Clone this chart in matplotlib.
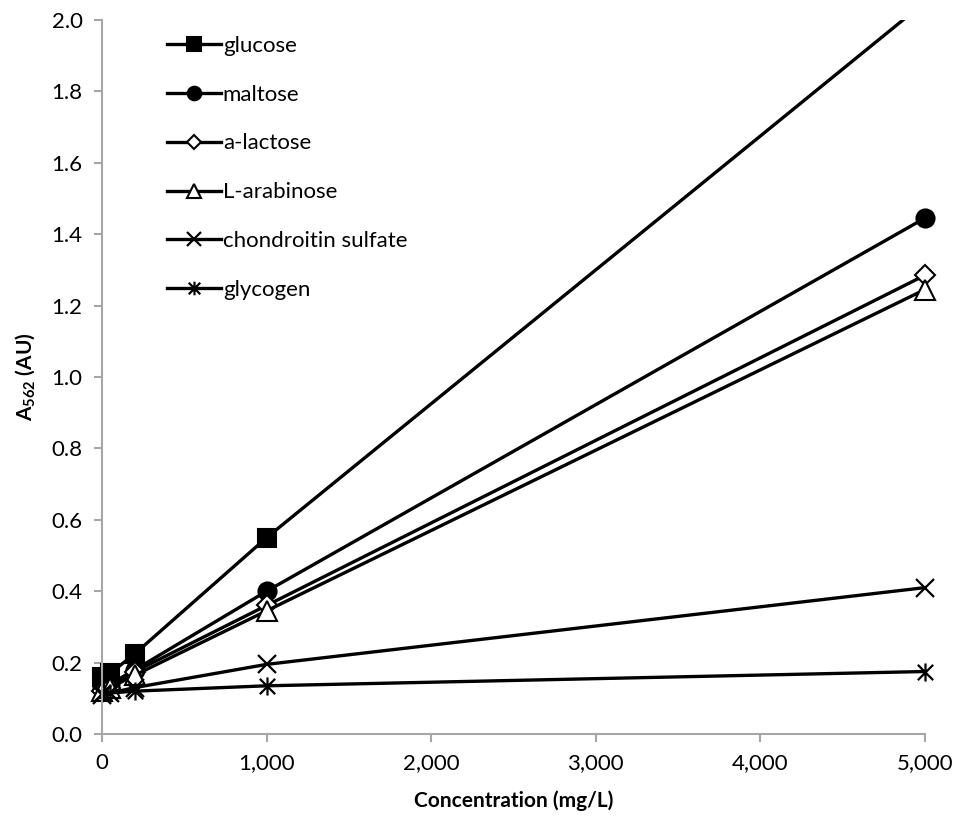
import matplotlib
matplotlib.use("Agg")
import matplotlib.pyplot as plt
from matplotlib.patches import Rectangle
from matplotlib.path import Path
from matplotlib.ticker import FuncFormatter, MultipleLocator

# Absorbance at 562 nm vs sugar concentration
conc = [0, 50, 200, 1000, 5000]
glucose = [0.16, 0.17, 0.225, 0.55, 2.05]
maltose = [0.13, 0.14, 0.18, 0.40, 1.445]
lactose = [0.12, 0.13, 0.175, 0.36, 1.285]
arabinose = [0.12, 0.13, 0.165, 0.345, 1.245]
chondroitin = [0.11, 0.115, 0.13, 0.195, 0.41]
glycogen = [0.115, 0.115, 0.12, 0.135, 0.175]

# x-style asterisk with a vertical bar
ASTERISK = Path(
    [(0, -1), (0, 1), (-0.85, -0.85), (0.85, 0.85), (-0.85, 0.85), (0.85, -0.85)],
    [Path.MOVETO, Path.LINETO] * 3,
)

SERIES = [
    ("glucose", glucose, dict(marker="s", mfc="black", ms=13)),
    ("maltose", maltose, dict(marker="o", mfc="black", ms=13)),
    ("a-lactose", lactose, dict(marker="D", mfc="white", ms=10)),
    ("L-arabinose", arabinose, dict(marker="^", mfc="white", ms=14)),
    ("chondroitin sulfate", chondroitin, dict(marker="x", mfc="none", ms=13, mew=1.6)),
    ("glycogen", glycogen, dict(marker=ASTERISK, mfc="none", ms=13, mew=1.6)),
]

plt.rcParams.update({
    "font.family": ["Lato", "DejaVu Sans"],
    "font.size": 16,
    "mathtext.fontset": "custom",
    "mathtext.rm": "Lato",
    "mathtext.bf": "Lato:bold",
})

fig = plt.figure(figsize=(9.58, 8.19), dpi=100)
ax = fig.add_axes([0.1065, 0.1038, 0.859, 0.8718])

# clip only at the top/right so markers at x=0 sit over the axis line
clip = Rectangle((-0.05, -0.05), 1.1, 1.05, transform=ax.transAxes)

for name, vals, style in SERIES:
    line, = ax.plot(conc, vals, color="black", lw=2.4, mec="black",
                    mew=style.pop("mew", 1.5), label=name, **style)
    line.set_clip_path(clip)

ax.set_xlim(0, 5000)
ax.set_ylim(0, 2.0)
ax.xaxis.set_major_locator(MultipleLocator(1000))
ax.yaxis.set_major_locator(MultipleLocator(0.2))
ax.xaxis.set_major_formatter(FuncFormatter(lambda v, _: f"{v:,.0f}"))
ax.yaxis.set_major_formatter(FuncFormatter(lambda v, _: f"{v:.1f}"))

for side in ("top", "right"):
    ax.spines[side].set_visible(False)
for side in ("left", "bottom"):
    ax.spines[side].set_color("#a6a6a6")
    ax.spines[side].set_linewidth(1.5)
ax.tick_params(direction="out", length=6, width=1.5, color="#a6a6a6",
               labelsize=16, pad=8)

ax.set_xlabel("Concentration (mg/L)", fontweight="bold", fontsize=15, labelpad=12)
ax.set_ylabel(r"A$_{\mathbf{562}}$ (AU)", fontweight="bold", fontsize=15, labelpad=10)

ax.legend(loc="upper left", bbox_to_anchor=(0.055, 1.006), frameon=False,
          handlelength=2.4, handletextpad=0.1, labelspacing=1.3,
          markerscale=0.75, fontsize=16)

fig.savefig("out.png", dpi=100)
